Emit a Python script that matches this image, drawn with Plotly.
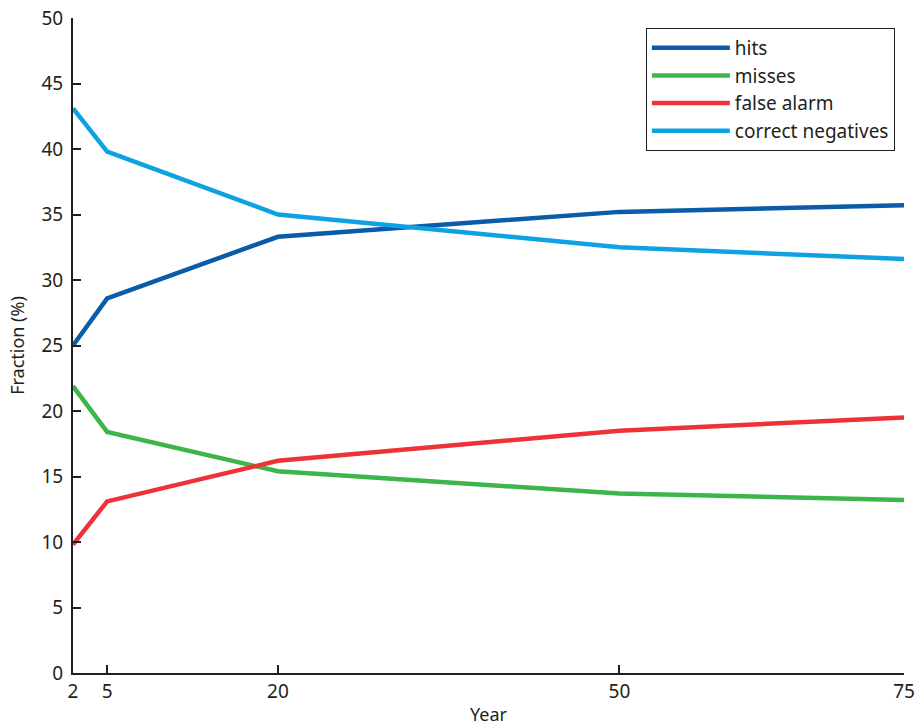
import plotly.graph_objects as go

years = [2, 5, 20, 50, 75]
hits = [25.0, 28.6, 33.3, 35.2, 35.7]
misses = [21.9, 18.4, 15.4, 13.7, 13.2]
false_alarm = [9.8, 13.1, 16.2, 18.5, 19.5]
correct_negatives = [43.1, 39.8, 35.0, 32.5, 31.6]

series = [
    ("hits", hits, "#0a5ba8"),
    ("misses", misses, "#3cb54a"),
    ("false alarm", false_alarm, "#ee3338"),
    ("correct negatives", correct_negatives, "#0ea2e2"),
]

fig = go.Figure()
for name, vals, col in series:
    fig.add_trace(go.Scatter(x=years, y=vals, mode="lines", name=name,
                             line=dict(color=col, width=4.5)))

font = "Noto Sans, Open Sans, sans-serif"
fig.update_layout(
    width=916, height=726,
    margin=dict(l=73, r=12, t=18, b=53),
    paper_bgcolor="white", plot_bgcolor="white",
    font=dict(family=font, size=17, color="#231f20"),
    showlegend=True,
    legend=dict(x=0.989, y=0.985, xanchor="right", yanchor="top",
                bordercolor="#231f20", borderwidth=1, bgcolor="white",
                font=dict(size=19), tracegroupgap=0, itemwidth=78),
    xaxis=dict(range=[2, 75], tickvals=years, ticktext=[str(y) for y in years],
               ticks="inside", ticklen=8, tickwidth=1.5, tickcolor="#231f20",
               tickfont=dict(size=19),
               showline=True, linecolor="#231f20", linewidth=2, mirror=False,
               showgrid=False, zeroline=False, automargin=False,
               title=dict(text="Year", standoff=12, font=dict(size=18))),
    yaxis=dict(range=[0, 50], tickvals=list(range(0, 51, 5)),
               ticks="inside", ticklen=8, tickwidth=1.5, tickcolor="#231f20",
               tickfont=dict(size=19), ticklabelstandoff=4,
               showline=True, linecolor="#231f20", linewidth=2,
               showgrid=False, zeroline=False, automargin=False,
               title=dict(text="Fraction (%)", standoff=12, font=dict(size=18))),
)

fig.write_html("out.html", config={"displayModeBar": False},
               post_script="document.body.style.margin='0';document.body.style.overflow='hidden';")
